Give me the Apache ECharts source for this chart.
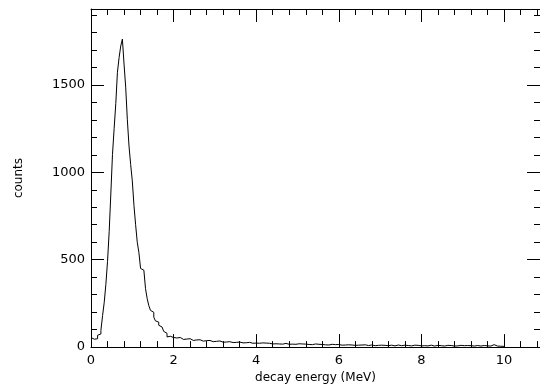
<!DOCTYPE html>
<html>
<head>
<meta charset="utf-8">
<script src="https://cdn.jsdelivr.net/npm/echarts@6/dist/echarts.min.js"></script>
<style>
html,body{margin:0;padding:0;background:#fff;}
#chart{width:540px;height:389px;}
</style>
</head>
<body>
<div id="chart"></div>
<script>
// Histogram: bins start at binStart, each binWidth MeV wide
const binStart = 0;
const binWidth = 0.04;
const counts = [
  // 0.00 - 1.00 MeV
  55,45,40,48,68,75,96,180,255,359,490,660,876,1101,1250,1393,1572,1656,1722,1762,1619,1487,1300,1150,1045,
  // 1.00 - 2.00
  951,810,700,600,540,450,440,430,334,277,237,210,199,171,150,143,125,115,107,90,79,58,62,66,55,
  // 2.00 - 3.00
  58,52,47,55,49,44,51,46,40,48,43,38,45,41,36,42,39,34,40,37,33,38,35,31,36,
  // 3.00 - 4.00
  33,30,35,31,28,33,29,27,31,28,26,30,27,25,29,26,24,28,25,23,27,24,22,26,23,
  // 4.00 - 5.00
  25,22,20,24,21,23,19,22,20,18,21,19,22,18,20,17,19,21,18,16,19,17,20,16,18,
  // 5.00 - 6.00
  19,16,18,15,17,19,15,17,14,16,18,14,16,13,15,17,13,15,12,14,16,12,14,13,15,
  // 6.00 - 7.00
  13,11,14,12,10,13,11,12,14,10,12,11,9,12,10,13,11,9,11,12,10,8,11,10,12,
  // 7.00 - 8.00
  11,9,10,12,8,10,11,9,7,10,12,9,8,10,11,8,9,10,7,9,11,8,10,9,7,
  // 8.00 - 9.00
  9,8,10,7,9,11,8,6,9,10,7,8,9,6,8,10,7,9,8,6,9,7,8,10,7,
  // 9.00 - 10.00
  8,6,9,7,8,10,6,7,9,8,6,7,9,12,7,8,6,9,14,8,6,7,5,6,4
];
const xTickValues = [0, 2, 4, 6, 8, 10];
const yTickValues = [0, 500, 1000, 1500];
const xName = 'decay energy (MeV)';
const yName = 'counts';

const X_MIN = 0, X_MAX = 10.87, X_MAJOR = 2, X_MINOR = 0.4;
const Y_MIN = 0, Y_MAX = 1934, Y_MAJOR = 500, Y_MINOR = 100;

const pts = counts.map((c, i) => [+(binStart + i * binWidth).toFixed(4), c]);
pts.push([+(binStart + counts.length * binWidth).toFixed(4), 0]);

const font = 'DejaVu Sans';
const ink = '#000';

function xAx(pos, major, showLabel) {
  return {
    type: 'value', position: pos, min: X_MIN, max: X_MAX,
    interval: major ? X_MAJOR : X_MINOR,
    axisLine: {show: major, onZero: false, lineStyle: {color: ink, width: 1}},
    axisTick: {show: true, inside: true, length: major ? 13 : 6, lineStyle: {color: ink, width: 1}},
    axisLabel: {show: showLabel, color: ink, fontFamily: font, fontSize: 13, margin: 7,
      showMaxLabel: false,
      formatter: v => xTickValues.includes(v) ? String(v) : ''},
    splitLine: {show: false},
    name: showLabel ? xName : '', nameLocation: 'middle', nameGap: 20,
    nameTextStyle: {color: ink, fontFamily: font, fontSize: 12}
  };
}
function yAx(pos, major, showLabel) {
  return {
    type: 'value', position: pos, min: Y_MIN, max: Y_MAX,
    interval: major ? Y_MAJOR : Y_MINOR,
    axisLine: {show: major, onZero: false, lineStyle: {color: ink, width: 1}},
    axisTick: {show: true, inside: true, length: major ? 13 : 6, lineStyle: {color: ink, width: 1}},
    axisLabel: {show: showLabel, color: ink, fontFamily: font, fontSize: 13, margin: 6,
      showMaxLabel: false,
      formatter: v => yTickValues.includes(v) ? String(v) : ''},
    splitLine: {show: false},
    name: showLabel ? yName : '', nameLocation: 'middle', nameGap: 66, nameRotate: 90,
    nameTextStyle: {color: ink, fontFamily: font, fontSize: 12}
  };
}

const chart = echarts.init(document.getElementById('chart'), null, {renderer: 'canvas'});
chart.setOption({
  animation: false,
  backgroundColor: '#fff',
  grid: {left: 91, right: 0, top: 9, bottom: 37, containLabel: false},
  xAxis: [xAx('bottom', true, true), xAx('top', true, false), xAx('bottom', false, false), xAx('top', false, false)],
  yAxis: [yAx('left', true, true), yAx('right', true, false), yAx('left', false, false), yAx('right', false, false)],
  series: [{
    type: 'line', step: 'end', data: pts, showSymbol: false, symbol: 'none',
    xAxisIndex: 0, yAxisIndex: 0,
    lineStyle: {color: ink, width: 1}, silent: true
  }]
});
</script>
</body>
</html>
